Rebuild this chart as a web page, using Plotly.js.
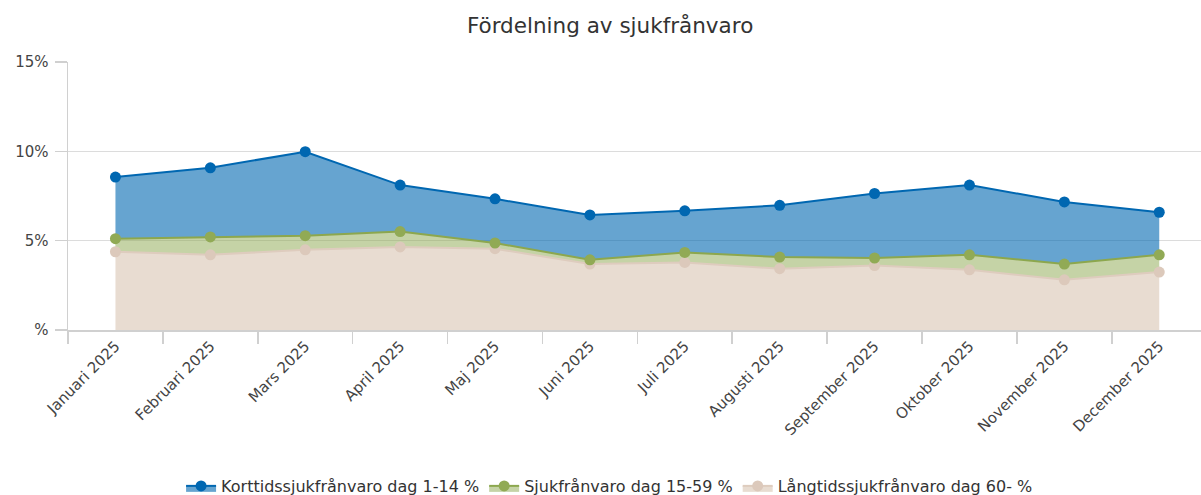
<!DOCTYPE html>
<html>
<head>
<meta charset="utf-8">
<script src="https://cdn.plot.ly/plotly-3.0.1.min.js"></script>
<style>html,body{margin:0;padding:0;background:#fff;}#chart{width:1201px;height:495px;}</style>
</head>
<body>
<div id="chart"></div>
<script>
const months = ["Januari 2025","Februari 2025","Mars 2025","April 2025","Maj 2025","Juni 2025","Juli 2025","Augusti 2025","September 2025","Oktober 2025","November 2025","December 2025"];
const kortName = "Korttidssjukfrånvaro dag 1-14 %";
const mellanName = "Sjukfrånvaro dag 15-59 %";
const langName = "Långtidssjukfrånvaro dag 60- %";
const kort   = [3.45, 3.87, 4.70, 2.60, 2.47, 2.51, 2.33, 2.90, 3.61, 3.90, 3.48, 2.38];
const mellan = [0.73, 1.00, 0.79, 0.86, 0.32, 0.24, 0.56, 0.65, 0.42, 0.84, 0.88, 0.97];
const lang   = [4.38, 4.21, 4.49, 4.65, 4.55, 3.69, 3.78, 3.43, 3.61, 3.37, 2.81, 3.24];
const yTickVals = [0, 5, 10, 15];
const yTickText = ["%", "5%", "10%", "15%"];

const traces = [
  {x: months, y: lang, name: langName, type: "scatter", mode: "lines+markers", stackgroup: "s",
   line: {color: "rgb(222,204,190)", width: 2}, marker: {color: "rgb(220,201,187)", size: 11},
   fillcolor: "rgba(216,196,178,0.6)"},
  {x: months, y: mellan, name: mellanName, type: "scatter", mode: "lines+markers", stackgroup: "s",
   line: {color: "rgb(140,167,78)", width: 2}, marker: {color: "rgb(145,170,85)", size: 11},
   fillcolor: "rgba(140,167,78,0.5)"},
  {x: months, y: kort, name: kortName, type: "scatter", mode: "lines+markers", stackgroup: "s",
   line: {color: "rgb(0,103,177)", width: 2}, marker: {color: "rgb(0,103,177)", size: 11},
   fillcolor: "rgba(0,103,177,0.6)"}
];

const layout = {
  width: 1201, height: 495,
  margin: {l: 68, r: 0, t: 62, b: 165, autoexpand: false},
  paper_bgcolor: "#fff", plot_bgcolor: "#fff",
  font: {family: "DejaVu Sans, Verdana, sans-serif", color: "#444"},
  title: {text: "Fördelning av sjukfrånvaro", font: {size: 21.5, color: "#333"},
          x: 0.508, xref: "container", xanchor: "center", y: 0.949, yref: "container", yanchor: "middle"},
  xaxis: {type: "category", range: [-0.5, 11.44], tickson: "boundaries", ticks: "outside", ticklen: 12,
          tickcolor: "#d0d0d0", tickwidth: 1.5, showgrid: false, showline: true, linecolor: "#d0d0d0", linewidth: 1.5,
          tickangle: -45, tickfont: {size: 15, color: "#444"}, zeroline: false, fixedrange: true, automargin: false},
  yaxis: {range: [0, 15], tickvals: yTickVals, ticktext: yTickText, ticks: "outside", ticklen: 12,
          tickcolor: "#d0d0d0", tickwidth: 1.5, showgrid: true, gridcolor: "#dcdcdc", gridwidth: 1.5,
          showline: true, linecolor: "#d0d0d0", linewidth: 1.5, zeroline: false, ticklabelstandoff: 3,
          tickfont: {size: 15, color: "#444"}, fixedrange: true, automargin: false},
  legend: {orientation: "h", x: 0.478, xref: "paper", xanchor: "center", y: -0.582, yanchor: "middle",
           traceorder: "reversed", font: {size: 16, color: "#333"}, itemwidth: 30, bgcolor: "rgba(0,0,0,0)"},
  showlegend: true
};

Plotly.newPlot("chart", traces, layout, {displayModeBar: false, staticPlot: true});
</script>
</body>
</html>
